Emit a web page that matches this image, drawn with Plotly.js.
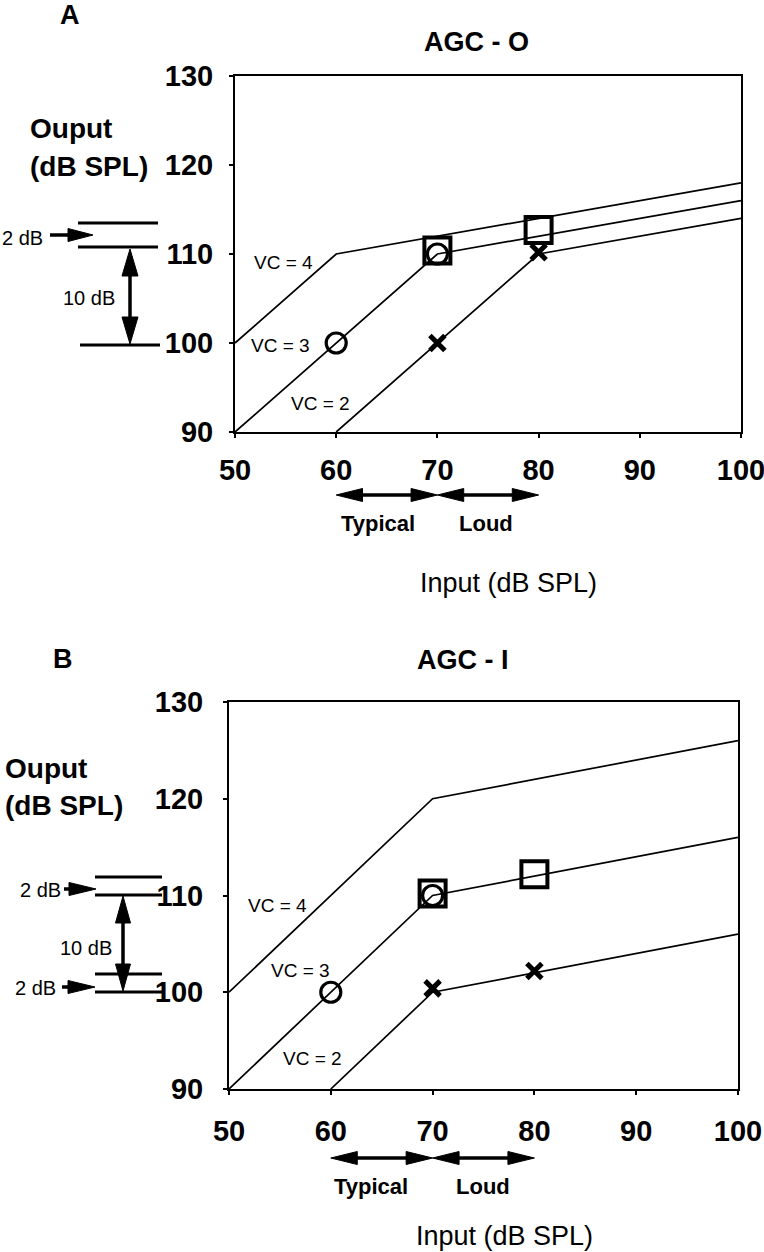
<!DOCTYPE html>
<html>
<head>
<meta charset="utf-8">
<script src="https://cdn.plot.ly/plotly-3.0.1.min.js"></script>
<style>
  html, body { margin: 0; padding: 0; background: #fff; }
  #chart { width: 764px; height: 1252px; }
</style>
</head>
<body>
<div id="chart"></div>
<script>
// ---------------- DATA ----------------
// Panel A : AGC-O  (input dB SPL -> output dB SPL)
var aVc4X = [50, 60, 100];
var aVc4Y = [100, 110, 118];
var aVc3X = [50, 70, 100];
var aVc3Y = [90, 110, 116];
var aVc2X = [60, 80, 100];
var aVc2Y = [90, 110, 114];
var aCircleX = [60, 70];
var aCircleY = [100, 110];
var aSquareX = [70, 80];
var aSquareY = [110.4, 112.7];
var aCrossX = [70, 80];
var aCrossY = [100, 110.2];

// Panel B : AGC-I
var bVc4X = [50, 70, 100];
var bVc4Y = [100, 120, 126];
var bVc3X = [50, 70, 100];
var bVc3Y = [90, 110, 116];
var bVc2X = [60, 70, 100];
var bVc2Y = [90, 100, 106];
var bCircleX = [60, 70];
var bCircleY = [100, 110];
var bSquareX = [70, 80];
var bSquareY = [110.2, 112.2];
var bCrossX = [70, 80];
var bCrossY = [100.4, 102.2];

var xTickVals = [50, 60, 70, 80, 90, 100];
var xTickText = ['50', '60', '70', '80', '90', '100'];
var yTickVals = [90, 100, 110, 120, 130];
var yTickText = ['90', '100', '110', '120', '130'];

var panelLetters = ['A', 'B'];
var panelTitles = ['AGC - O', 'AGC - I'];
var vcLabels = ['VC = 4', 'VC = 3', 'VC = 2'];
var rangeLabels = ['Typical', 'Loud'];
var rangeStarts = [60, 70];
var rangeEnds = [70, 80];
var yTitleLines = ['Ouput', '(dB SPL)'];
var xTitle = 'Input (dB SPL)';

// ---------------- HELPERS ----------------
var W = 764, H = 1252;
function px(x) { return x / W; }
function py(y) { return 1 - y / H; }

var FAMILY = '"Liberation Sans", Arial, Helvetica, sans-serif';

function lineTrace(x, y, xa, ya) {
  return { x: x, y: y, xaxis: xa, yaxis: ya, type: 'scatter', mode: 'lines',
           line: { color: '#000', width: 1.7 }, hoverinfo: 'skip', cliponaxis: false };
}
function markerTrace(x, y, xa, ya, symbol, size, lw) {
  return { x: x, y: y, xaxis: xa, yaxis: ya, type: 'scatter', mode: 'markers',
           marker: { symbol: symbol, size: size, color: '#000',
                     line: { color: '#000', width: lw } },
           hoverinfo: 'skip', cliponaxis: false };
}

var data = [
  lineTrace(aVc4X, aVc4Y, 'x', 'y'),
  lineTrace(aVc3X, aVc3Y, 'x', 'y'),
  lineTrace(aVc2X, aVc2Y, 'x', 'y'),
  markerTrace(aSquareX, aSquareY, 'x', 'y', 'square-open', 26, 4),
  markerTrace(aCircleX, aCircleY, 'x', 'y', 'circle-open', 20, 3.2),
  markerTrace(aCrossX, aCrossY, 'x', 'y', 'x-thin-open', 15, 5),
  lineTrace(bVc4X, bVc4Y, 'x2', 'y2'),
  lineTrace(bVc3X, bVc3Y, 'x2', 'y2'),
  lineTrace(bVc2X, bVc2Y, 'x2', 'y2'),
  markerTrace(bSquareX, bSquareY, 'x2', 'y2', 'square-open', 26, 4),
  markerTrace(bCircleX, bCircleY, 'x2', 'y2', 'circle-open', 20, 3.2),
  markerTrace(bCrossX, bCrossY, 'x2', 'y2', 'x-thin-open', 15, 5)
];

function xAxis(domain, anchor, standoff) {
  return {
    domain: domain, anchor: anchor, range: [50, 100],
    tickmode: 'array', tickvals: xTickVals, ticktext: xTickText,
    ticks: 'outside', ticklen: 4, tickwidth: 2, tickcolor: '#000',
    ticklabelstandoff: standoff, ticklabeloverflow: 'allow',
    showline: true, linecolor: '#000', linewidth: 2, mirror: true,
    showgrid: false, zeroline: false, fixedrange: true,
    tickfont: { family: FAMILY, size: 29, color: '#000', weight: 'bold' }
  };
}
function yAxis(domain, anchor, standoff) {
  return {
    domain: domain, anchor: anchor, range: [90, 130],
    tickmode: 'array', tickvals: yTickVals, ticktext: yTickText,
    ticks: 'outside', ticklen: 4, tickwidth: 2, tickcolor: '#000',
    ticklabelstandoff: standoff,
    showline: true, linecolor: '#000', linewidth: 2, mirror: true,
    showgrid: false, zeroline: false, fixedrange: true,
    tickfont: { family: FAMILY, size: 29, color: '#000', weight: 'bold' }
  };
}

function txt(text, x, y, size, bold, xanchor) {
  return { text: text, xref: 'paper', yref: 'paper', x: px(x), y: py(y),
           xanchor: xanchor || 'center', yanchor: 'middle', showarrow: false,
           font: { family: FAMILY, size: size, color: '#000', weight: bold ? 'bold' : 'normal' } };
}

// shapes drawn in page pixels (converted to paper)
function hLine(x0, x1, y, w) {
  return { type: 'line', xref: 'paper', yref: 'paper', x0: px(x0), x1: px(x1),
           y0: py(y), y1: py(y), line: { color: '#000', width: w || 3 } };
}
function vLine(x, y0, y1, w) {
  return { type: 'line', xref: 'paper', yref: 'paper', x0: px(x), x1: px(x),
           y0: py(y0), y1: py(y1), line: { color: '#000', width: w || 3 } };
}
function tri(p) { // p: array of [xPx, yPx]
  var s = 'M' + p.map(function (q) { return px(q[0]) + ',' + py(q[1]); }).join(' L') + ' Z';
  return { type: 'path', xref: 'paper', yref: 'paper', path: s,
           fillcolor: '#000', line: { color: '#000', width: 1 } };
}
function headH(tx, ty, dir, L, hw) { // dir: +1 points right, -1 left
  return tri([[tx, ty], [tx - dir * L, ty - hw], [tx - dir * L, ty + hw]]);
}
function headV(tx, ty, dir, L, hw) { // dir: -1 points up, +1 down
  return tri([[tx, ty], [tx - hw, ty - dir * L], [tx + hw, ty - dir * L]]);
}
// arrows along a data x axis (range labels); y in page pixels
function dataHead(xa, tipX, yPx, dir, Lunits, hw) {
  var pts = [[tipX, yPx], [tipX - dir * Lunits, yPx - hw], [tipX - dir * Lunits, yPx + hw]];
  var s = 'M' + pts.map(function (q) { return q[0] + ',' + py(q[1]); }).join(' L') + ' Z';
  return { type: 'path', xref: xa, yref: 'paper', path: s,
           fillcolor: '#000', line: { color: '#000', width: 1 } };
}
function dataShaft(xa, x0, x1, yPx) {
  return { type: 'line', xref: xa, yref: 'paper', x0: x0, x1: x1, y0: py(yPx), y1: py(yPx),
           line: { color: '#000', width: 3.5 } };
}
function rangeArrowShapes(xa, x0, x1, yPx) {
  return [dataShaft(xa, x0 + 1, x1 - 1, yPx),
          dataHead(xa, x0, yPx, -1, 2.6, 6.5),
          dataHead(xa, x1, yPx, +1, 2.6, 6.5)];
}

var annotations = [
  // Panel A
  txt(panelLetters[0], 70, 15, 27, true),
  txt(panelTitles[0], 476, 42, 27, true),
  txt(yTitleLines[0], 28, 128, 28, true, 'left'),
  txt(yTitleLines[1], 28, 167, 28, true, 'left'),
  txt('2 dB', 22, 238, 20, false),
  txt('10 dB', 89, 298, 20, false),
  txt(vcLabels[0], 283, 262, 19, false),
  txt(vcLabels[1], 280, 345, 19, false),
  txt(vcLabels[2], 320, 403, 19, false),
  txt(rangeLabels[0], 378, 523, 22, true),
  txt(rangeLabels[1], 486, 523, 22, true),
  txt(xTitle, 508, 583, 27, false),
  // Panel B
  txt(panelLetters[1], 63, 659, 27, true),
  txt(panelTitles[1], 463, 660, 27, true),
  txt(yTitleLines[0], 3, 768, 28, true, 'left'),
  txt(yTitleLines[1], 3, 805, 28, true, 'left'),
  txt('2 dB', 40, 890, 20, false),
  txt('2 dB', 35, 988, 20, false),
  txt('10 dB', 86, 948, 20, false),
  txt(vcLabels[0], 277, 905, 19, false),
  txt(vcLabels[1], 300, 970, 19, false),
  txt(vcLabels[2], 312, 1058, 19, false),
  txt(rangeLabels[0], 371, 1186, 22, true),
  txt(rangeLabels[1], 483, 1186, 22, true),
  txt(xTitle, 505, 1236, 27, false)
];

var shapes = [
  // Panel A level markers
  hLine(78, 158, 223),
  hLine(78, 158, 247),
  hLine(80, 160, 345),
  hLine(50, 75, 235, 3.5), headH(93, 235, 1, 25, 6.5),
  vLine(130, 265, 328, 3.5), headV(130, 249, -1, 27, 8), headV(130, 344, 1, 27, 8),
  // Panel B level markers
  hLine(95, 162, 877),
  hLine(95, 162, 895),
  hLine(95, 162, 974),
  hLine(95, 162, 992),
  hLine(64, 80, 889, 3.5), headH(96, 889, 1, 27, 6.5),
  hLine(62, 78, 987, 3.5), headH(95, 987, 1, 27, 6.5),
  vLine(123, 912, 975, 3.5), headV(123, 896, -1, 27, 7.5), headV(123, 991, 1, 27, 7.5)
]
.concat(rangeArrowShapes('x', rangeStarts[0], rangeEnds[0], 495))
.concat(rangeArrowShapes('x', rangeStarts[1], rangeEnds[1], 495))
.concat(rangeArrowShapes('x2', rangeStarts[0], rangeEnds[0], 1158))
.concat(rangeArrowShapes('x2', rangeStarts[1], rangeEnds[1], 1158));

var layout = {
  width: W, height: H,
  margin: { l: 0, r: 0, t: 0, b: 0, pad: 0 },
  paper_bgcolor: '#fff', plot_bgcolor: '#fff',
  showlegend: false,
  xaxis: xAxis([235 / W, 741 / W], 'y', 7),
  yaxis: yAxis([1 - 432 / H, 1 - 76 / H], 'x', 10),
  xaxis2: xAxis([229 / W, 738 / W], 'y2', 11),
  yaxis2: yAxis([1 - 1089 / H, 1 - 702 / H], 'x2', 14),
  annotations: annotations,
  shapes: shapes
};

Plotly.newPlot('chart', data, layout, { staticPlot: true, displayModeBar: false });
</script>
</body>
</html>
